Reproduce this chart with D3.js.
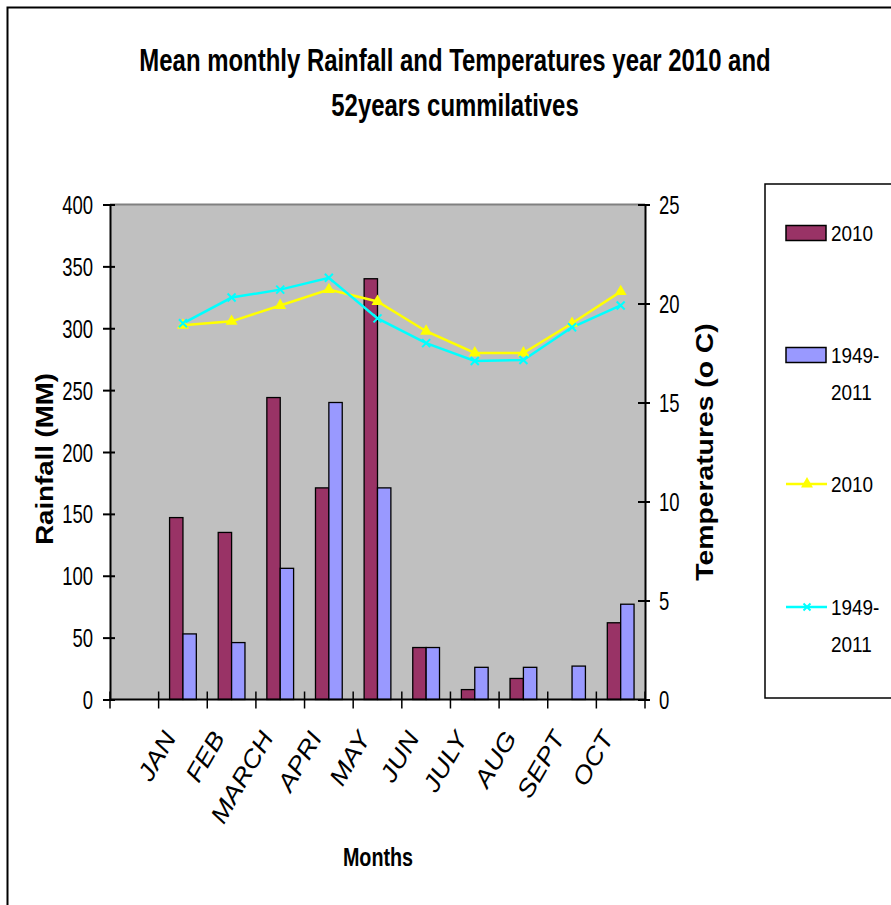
<!DOCTYPE html>
<html>
<head>
<meta charset="utf-8">
<script src="https://cdn.jsdelivr.net/npm/d3@7"></script>
<style>
  html, body { margin: 0; padding: 0; background: #fff; }
  svg { display: block; }
  text { font-family: "Liberation Sans", Arial, sans-serif; fill: #000; }
</style>
</head>
<body>
<svg id="chart" width="891" height="905"></svg>
<script>
// Categories (the first slot is an empty category, as in the workbook)
const categories = ["", "JAN", "FEB", "MARCH", "APRI", "MAY", "JUN", "JULY", "AUG", "SEPT", "OCT"];

// Rainfall (mm)
const rain2010 = [null, 147, 135, 244, 171, 340, 42, 8, 17, null, 62];
const rain1949 = [null, 53, 46, 106, 240, 171, 42, 26, 26, 27, 77];

// Temperatures (°C)
const temp2010 = [null, 18.9, 19.1, 19.9, 20.7, 20.1, 18.6, 17.5, 17.5, 19.0, 20.6];
const temp1949 = [null, 19.0, 20.3, 20.7, 21.3, 19.25, 18.0, 17.1, 17.15, 18.8, 19.9];

const rainTicks = [0, 50, 100, 150, 200, 250, 300, 350, 400];
const tempTicks = [0, 5, 10, 15, 20, 25];

const titleLines = ["Mean monthly Rainfall and Temperatures year 2010 and", "52years cummilatives"];

const colors = { bar2010: "#993366", bar1949: "#9999FF", line2010: "#FFFF00", line1949: "#00FFFF" };

const svg = d3.select("#chart");

// outer chart frame
svg.append("rect")
  .attr("x", 7.5).attr("y", 7.5).attr("width", 1000).attr("height", 1000)
  .attr("fill", "#fff").attr("stroke", "#000").attr("stroke-width", 2);

const plot = { left: 110, right: 645, top: 204.5, bottom: 699.5 };

const x = d3.scaleBand().domain(categories).range([plot.left, plot.right]).paddingInner(0).paddingOuter(0);
const yRain = d3.scaleLinear().domain([0, 400]).range([plot.bottom, plot.top]);
const yTemp = d3.scaleLinear().domain([0, 25]).range([plot.bottom, plot.top]);

// plot background
svg.append("rect")
  .attr("x", plot.left).attr("y", plot.top)
  .attr("width", plot.right - plot.left).attr("height", plot.bottom - plot.top)
  .attr("fill", "#C0C0C0");
svg.append("line")
  .attr("x1", plot.left).attr("x2", plot.right).attr("y1", plot.top).attr("y2", plot.top)
  .attr("stroke", "#808080").attr("stroke-width", 2);

// bars
const barW = x.bandwidth() * 0.275;
const barData = [];
categories.forEach((c, i) => {
  if (rain2010[i] != null) barData.push({ c, v: rain2010[i], k: 0 });
  if (rain1949[i] != null) barData.push({ c, v: rain1949[i], k: 1 });
});
svg.append("g").selectAll("rect").data(barData).join("rect")
  .attr("x", d => x(d.c) + x.bandwidth() / 2 - barW + d.k * barW)
  .attr("y", d => yRain(d.v))
  .attr("width", barW)
  .attr("height", d => yRain(0) - yRain(d.v))
  .attr("fill", d => d.k === 0 ? colors.bar2010 : colors.bar1949)
  .attr("stroke", "#000").attr("stroke-width", 1.3);

// temperature lines
const cx = c => x(c) + x.bandwidth() / 2;
function linePts(arr) {
  return categories.map((c, i) => ({ c, v: arr[i] })).filter(d => d.v != null);
}
const lineGen = d3.line().x(d => cx(d.c)).y(d => yTemp(d.v));

const pts2010 = linePts(temp2010);
const pts1949 = linePts(temp1949);

svg.append("path").datum(pts2010).attr("d", lineGen)
  .attr("fill", "none").attr("stroke", colors.line2010).attr("stroke-width", 2.5);
svg.append("path").datum(pts1949).attr("d", lineGen)
  .attr("fill", "none").attr("stroke", colors.line1949).attr("stroke-width", 2.5);

const tri = d3.symbol().type(d3.symbolTriangle).size(62);
svg.append("g").selectAll("path").data(pts2010).join("path")
  .attr("d", tri)
  .attr("transform", d => `translate(${cx(d.c)},${yTemp(d.v)})`)
  .attr("fill", colors.line2010);

function crossPath(s) { return `M${-s},${-s}L${s},${s}M${-s},${s}L${s},${-s}`; }
svg.append("g").selectAll("path").data(pts1949).join("path")
  .attr("d", crossPath(4))
  .attr("transform", d => `translate(${cx(d.c)},${yTemp(d.v)})`)
  .attr("stroke", colors.line1949).attr("stroke-width", 2).attr("fill", "none");

// axes
const axLeft = svg.append("g").attr("transform", `translate(${plot.left},0)`)
  .call(d3.axisLeft(yRain).tickValues(rainTicks).tickSize(7).tickSizeOuter(0));
const axRight = svg.append("g").attr("transform", `translate(${plot.right},0)`)
  .call(d3.axisRight(yTemp).tickValues(tempTicks).tickSize(5).tickSizeOuter(0));
[axLeft, axRight].forEach(a => {
  a.select(".domain").attr("stroke", "#000").attr("stroke-width", 2);
  a.selectAll(".tick line").attr("stroke", "#000").attr("stroke-width", 2);
});
axLeft.selectAll(".tick line").attr("x2", -7).attr("x1", 5);
axRight.selectAll(".tick line").attr("x1", -7).attr("x2", 5);

axLeft.selectAll(".tick text")
  .attr("x", null).attr("dy", null)
  .attr("font-size", 25).attr("text-anchor", "end")
  .attr("transform", "translate(-17,9) scale(0.74,1)");
axRight.selectAll(".tick text")
  .attr("x", null).attr("dy", null)
  .attr("font-size", 25).attr("text-anchor", "start")
  .attr("transform", "translate(14,9) scale(0.74,1)");

// bottom axis: category boundary ticks
svg.append("line")
  .attr("x1", plot.left).attr("x2", plot.right).attr("y1", plot.bottom).attr("y2", plot.bottom)
  .attr("stroke", "#000").attr("stroke-width", 2);
const bounds = categories.map(c => x(c)).concat([x.range()[1]]);
svg.append("g").selectAll("line").data(bounds).join("line")
  .attr("x1", d => d).attr("x2", d => d)
  .attr("y1", plot.bottom - 8).attr("y2", plot.bottom + 9)
  .attr("stroke", "#000").attr("stroke-width", 1.5);

// month labels
const axBottom = svg.append("g").attr("transform", `translate(0,${plot.bottom})`)
  .call(d3.axisBottom(x).tickSize(0).tickSizeOuter(0));
axBottom.select(".domain").remove();
axBottom.selectAll(".tick text")
  .attr("x", null).attr("y", null).attr("dy", null)
  .attr("font-size", 24).attr("font-style", "italic").attr("text-anchor", "end")
  .attr("transform", "translate(-6,38) rotate(-60) scale(1.15,1)");

// titles
const title = svg.append("g");
titleLines.forEach((t, i) => {
  title.append("text")
    .attr("transform", `translate(455,${71 + i * 45}) scale(0.76,1)`)
    .attr("text-anchor", "middle").attr("font-weight", "bold").attr("font-size", 31.5)
    .text(t);
});

svg.append("text")
  .attr("transform", "translate(378,866) scale(0.76,1)")
  .attr("text-anchor", "middle").attr("font-weight", "bold").attr("font-size", 26)
  .text("Months");

svg.append("text")
  .attr("transform", "translate(53,459) rotate(-90) scale(1.15,1)")
  .attr("text-anchor", "middle").attr("font-weight", "bold").attr("font-size", 24)
  .text("Rainfall (MM)");

svg.append("text")
  .attr("transform", "translate(713,452) rotate(-90) scale(1.18,1)")
  .attr("text-anchor", "middle").attr("font-weight", "bold").attr("font-size", 24)
  .text("Temperatures (o C)");

// legend
const legend = svg.append("g");
legend.append("rect")
  .attr("x", 765).attr("y", 184).attr("width", 300).attr("height", 514)
  .attr("fill", "#fff").attr("stroke", "#000").attr("stroke-width", 1.5);

const legendItems = [
  { type: "bar", color: colors.bar2010, lines: ["2010"], y: 233 },
  { type: "bar", color: colors.bar1949, lines: ["1949-", "2011"], y: 355 },
  { type: "tri", color: colors.line2010, lines: ["2010"], y: 484 },
  { type: "cross", color: colors.line1949, lines: ["1949-", "2011"], y: 607 }
];
legendItems.forEach(it => {
  const g = legend.append("g");
  if (it.type === "bar") {
    g.append("rect").attr("x", 786).attr("y", it.y - 7.5).attr("width", 40).attr("height", 15)
      .attr("fill", it.color).attr("stroke", "#000").attr("stroke-width", 1.5);
  } else {
    g.append("line").attr("x1", 786).attr("x2", 827).attr("y1", it.y).attr("y2", it.y)
      .attr("stroke", it.color).attr("stroke-width", 2.5);
    if (it.type === "tri") {
      g.append("path").attr("d", tri).attr("transform", `translate(807,${it.y})`).attr("fill", it.color);
    } else {
      g.append("path").attr("d", crossPath(3.5)).attr("transform", `translate(807,${it.y})`)
        .attr("stroke", it.color).attr("stroke-width", 2);
    }
  }
  it.lines.forEach((t, j) => {
    g.append("text")
      .attr("transform", `translate(831,${it.y + 8 + j * 37}) scale(0.86,1)`)
      .attr("font-size", 22).text(t);
  });
});
</script>
</body>
</html>
